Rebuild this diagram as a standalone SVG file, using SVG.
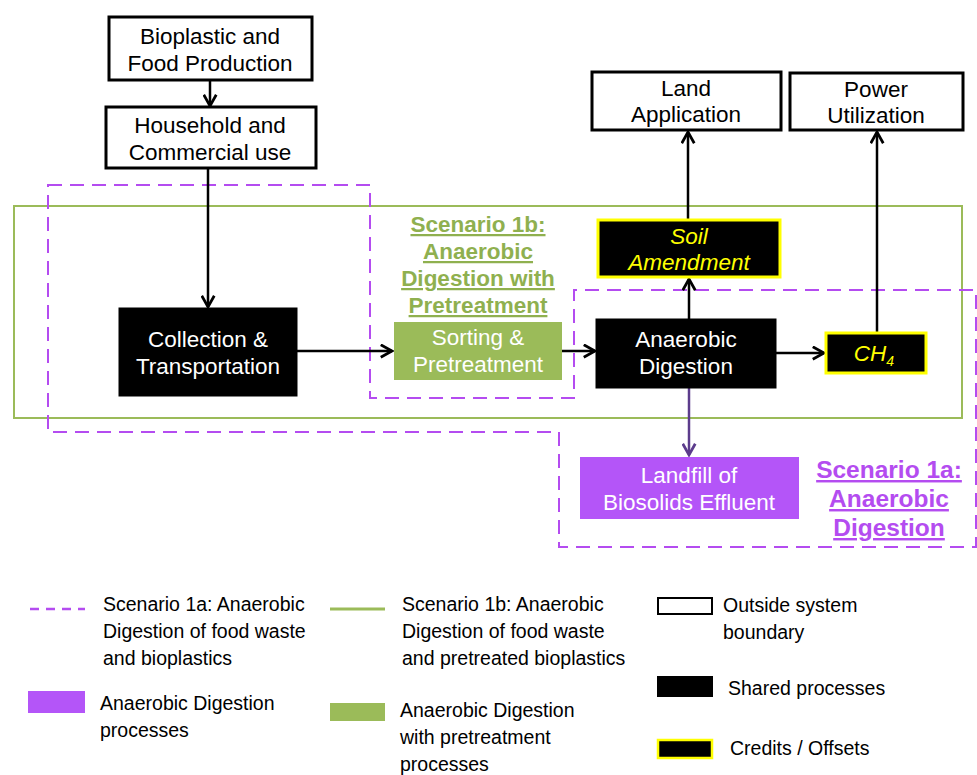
<svg xmlns="http://www.w3.org/2000/svg" width="977" height="775" viewBox="0 0 977 775">
<style>
.t{font-family:"Liberation Sans",Arial,sans-serif;font-size:22.5px;text-anchor:middle}
.w{fill:#fff}
.k{fill:#000}
.y{fill:#ffff00;font-style:italic}
.out{fill:#fff;stroke:#000;stroke-width:3}
.blk{fill:#000;stroke:#000;stroke-width:1}
.cr{fill:#000;stroke:#ffff00;stroke-width:3}
.sc{font-family:"Liberation Sans",Arial,sans-serif;font-size:22.5px;font-weight:bold;text-anchor:middle;text-decoration:underline}
.sc2{font-size:24.5px}
.lg{font-family:"Liberation Sans",Arial,sans-serif;font-size:19.5px;fill:#000}
.arr{stroke:#000;stroke-width:2.5;fill:none;marker-end:url(#ah)}
</style>
<defs>
<marker id="ah" viewBox="0 0 12 12" refX="10" refY="6" markerWidth="6" markerHeight="6" orient="auto" markerUnits="strokeWidth">
<path d="M1,1 L10,6 L1,11" fill="none" stroke="#000" stroke-width="2.2"/>
</marker>
<marker id="ahp" viewBox="0 0 12 12" refX="10" refY="6" markerWidth="6" markerHeight="6" orient="auto" markerUnits="strokeWidth">
<path d="M1,1 L10,6 L1,11" fill="none" stroke="#5c3c8c" stroke-width="2.2"/>
</marker>
</defs>
<rect width="977" height="775" fill="#fff"/>

<g id="boundaries">
<rect x="14" y="206" width="948" height="212" fill="none" stroke="#9bbb59" stroke-width="2"/>
<path d="M48,185 H370 V398 H574 V290 H976 V547 H559 V432 H48 Z" fill="none" stroke="#b44cf0" stroke-width="2" stroke-dasharray="14,8"/>
</g>

<g id="connectors">
<line class="arr" x1="210" y1="80" x2="210" y2="106"/>
<line class="arr" x1="208" y1="168" x2="208" y2="307"/>
<line class="arr" x1="297" y1="351" x2="392" y2="351"/>
<line class="arr" x1="562" y1="351" x2="595" y2="351"/>
<line class="arr" x1="776" y1="353" x2="824" y2="353"/>
<line class="arr" x1="689" y1="319" x2="689" y2="279"/>
<line class="arr" x1="688" y1="220" x2="688" y2="132"/>
<line class="arr" x1="877" y1="333" x2="877" y2="132"/>
<line x1="689" y1="388" x2="689" y2="455" stroke="#5c3c8c" stroke-width="2.5" marker-end="url(#ahp)"/>
</g>

<g id="bioplastic">
<rect class="out" x="109" y="17" width="203" height="63"/>
<text class="t k" x="210" y="44">Bioplastic and</text>
<text class="t k" x="210" y="71">Food Production</text>
</g>
<g id="household">
<rect class="out" x="106" y="107" width="210" height="61"/>
<text class="t k" x="210" y="133">Household and</text>
<text class="t k" x="210" y="160">Commercial use</text>
</g>
<g id="collection">
<rect class="blk" x="119" y="308" width="178" height="88"/>
<text class="t w" x="208" y="347">Collection &amp;</text>
<text class="t w" x="208" y="374">Transportation</text>
</g>
<g id="sorting">
<rect x="394" y="322" width="168" height="58" fill="#9bbb59"/>
<text class="t w" x="478" y="345">Sorting &amp;</text>
<text class="t w" x="478" y="372">Pretreatment</text>
</g>
<g id="ad">
<rect class="blk" x="596" y="319" width="180" height="69"/>
<text class="t w" x="686" y="347">Anaerobic</text>
<text class="t w" x="686" y="374">Digestion</text>
</g>
<g id="ch4">
<rect class="cr" x="826" y="333" width="100" height="40"/>
<text class="t y" x="874" y="361">CH<tspan font-size="14" dy="5">4</tspan></text>
</g>
<g id="soil">
<rect class="cr" x="598" y="220" width="182" height="57"/>
<text class="t y" x="689" y="244">Soil</text>
<text class="t y" x="689" y="270">Amendment</text>
</g>
<g id="land">
<rect class="out" x="592" y="72" width="189" height="58"/>
<text class="t k" x="686" y="96">Land</text>
<text class="t k" x="686" y="122">Application</text>
</g>
<g id="power">
<rect class="out" x="790" y="73" width="173" height="57"/>
<text class="t k" x="876" y="97">Power</text>
<text class="t k" x="876" y="123">Utilization</text>
</g>
<g id="landfill">
<rect x="580" y="457" width="219" height="62" fill="#b455f8"/>
<text class="t w" x="689" y="483">Landfill of</text>
<text class="t w" x="689" y="510">Biosolids Effluent</text>
</g>

<g id="label1b" fill="#8fb04f">
<text class="sc" x="478" y="232">Scenario 1b:</text>
<text class="sc" x="478" y="259">Anaerobic</text>
<text class="sc" x="478" y="286">Digestion with</text>
<text class="sc" x="478" y="313">Pretreatment</text>
</g>
<g id="label1a" fill="#b44cf0">
<text class="sc sc2" x="889" y="478">Scenario 1a:</text>
<text class="sc sc2" x="889" y="507">Anaerobic</text>
<text class="sc sc2" x="889" y="536">Digestion</text>
</g>

<g id="legend">
<line x1="30" y1="609" x2="85" y2="609" stroke="#b44cf0" stroke-width="2.5" stroke-dasharray="9,7"/>
<text class="lg" x="103" y="611">Scenario 1a: Anaerobic</text>
<text class="lg" x="103" y="638">Digestion of food waste</text>
<text class="lg" x="103" y="665">and bioplastics</text>
<line x1="330" y1="609" x2="385" y2="609" stroke="#9bbb59" stroke-width="3"/>
<text class="lg" x="402" y="611">Scenario 1b: Anaerobic</text>
<text class="lg" x="402" y="638">Digestion of food waste</text>
<text class="lg" x="402" y="665">and pretreated bioplastics</text>
<rect x="658" y="598" width="54" height="16" fill="#fff" stroke="#000" stroke-width="2"/>
<text class="lg" x="723" y="612">Outside system</text>
<text class="lg" x="723" y="639">boundary</text>
<rect x="28" y="691" width="57" height="22" fill="#b455f8"/>
<text class="lg" x="100" y="710">Anaerobic Digestion</text>
<text class="lg" x="100" y="737">processes</text>
<rect x="330" y="703" width="55" height="18" fill="#9bbb59"/>
<text class="lg" x="400" y="717">Anaerobic Digestion</text>
<text class="lg" x="400" y="744">with pretreatment</text>
<text class="lg" x="400" y="771">processes</text>
<rect x="657" y="676" width="56" height="21" fill="#000"/>
<text class="lg" x="728" y="695">Shared processes</text>
<rect x="658" y="740" width="54" height="18" fill="#000" stroke="#ffff00" stroke-width="2.5"/>
<text class="lg" x="730" y="755">Credits / Offsets</text>
</g>
</svg>
